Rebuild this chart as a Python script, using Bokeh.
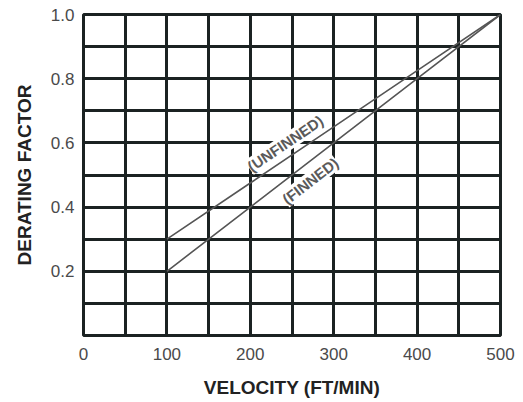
import numpy as np
from bokeh.plotting import figure
from bokeh.models import Range1d, FixedTicker, Label
from bokeh.embed import file_html
from bokeh.resources import INLINE

# --- data ---
velocity = [100, 200, 300, 400, 500]
unfinned = [0.30, 0.475, 0.65, 0.825, 1.0]
finned = [0.20, 0.40, 0.60, 0.80, 1.0]
x_ticks = [0, 100, 200, 300, 400, 500]
y_ticks = [0.2, 0.4, 0.6, 0.8, 1.0]
x_grid = list(range(0, 501, 50))
y_grid = [round(0.1 * i, 1) for i in range(11)]

FONT = "Liberation Sans"
GRID = "#1b2222"

ML, MR, MT, MB = 83, 15, 14, 64
FW, FH = 417, 321

p = figure(frame_width=FW, frame_height=FH, output_backend="svg", toolbar_location=None,
           x_range=Range1d(0, 500), y_range=Range1d(0, 1.0),
           min_border_left=ML, min_border_right=MR, min_border_top=MT, min_border_bottom=MB)

p.outline_line_color = GRID
p.outline_line_width = 3
p.background_fill_color = "white"
p.border_fill_color = "white"

for g, t in ((p.xgrid, x_grid), (p.ygrid, y_grid)):
    g.ticker = FixedTicker(ticks=t)
    g.grid_line_color = GRID
    g.grid_line_width = 3
    g.grid_line_alpha = 1.0

p.xaxis.ticker = FixedTicker(ticks=x_ticks)
p.yaxis.ticker = FixedTicker(ticks=y_ticks)
p.yaxis.major_label_overrides = {v: f"{v:.1f}" for v in y_ticks}

for ax in (p.xaxis, p.yaxis):
    ax.axis_line_color = None
    ax.major_tick_line_color = None
    ax.minor_tick_line_color = None
    ax.major_tick_out = 0
    ax.major_tick_in = 0
    ax.major_label_text_font = FONT
    ax.major_label_text_font_size = "17px"
    ax.major_label_text_color = "#4a4a4a"
    ax.axis_label_text_font = FONT
    ax.axis_label_text_font_size = "19px"
    ax.axis_label_text_font_style = "bold"
    ax.axis_label_text_color = "#222222"

p.xaxis.axis_label = "VELOCITY (FT/MIN)"
p.yaxis.axis_label = "DERATING FACTOR"
p.xaxis.major_label_standoff = 12
p.yaxis.major_label_standoff = 9
p.xaxis.axis_label_standoff = 14
p.yaxis.axis_label_standoff = 13

p.line(velocity, unfinned, line_color="#555555", line_width=1.6)
p.line(velocity, finned, line_color="#555555", line_width=1.6)

sx = FW / 500.0
sy = FH / 1.0

def angle_of(xs, ys):
    return np.arctan2((ys[-1] - ys[0]) * sy, (xs[-1] - xs[0]) * sx)

ua = angle_of(velocity, unfinned)
fa = angle_of(velocity, finned)

ux = 242
uy = float(np.interp(ux, velocity, unfinned)) + 0.05
fx = 272
fy = float(np.interp(fx, velocity, finned)) - 0.062

for txt, x, y, a in (("(UNFINNED)", ux, uy, ua), ("(FINNED)", fx, fy, fa)):
    p.add_layout(Label(x=x, y=y, text=txt, angle=float(a), angle_units="rad",
                       text_align="center", text_baseline="middle",
                       text_font=FONT, text_font_size="15px", text_font_style="bold",
                       text_color="#5a5a5a",
                       background_fill_color="white", background_fill_alpha=1.0))

open("out.html", "w").write(file_html(p, INLINE))
